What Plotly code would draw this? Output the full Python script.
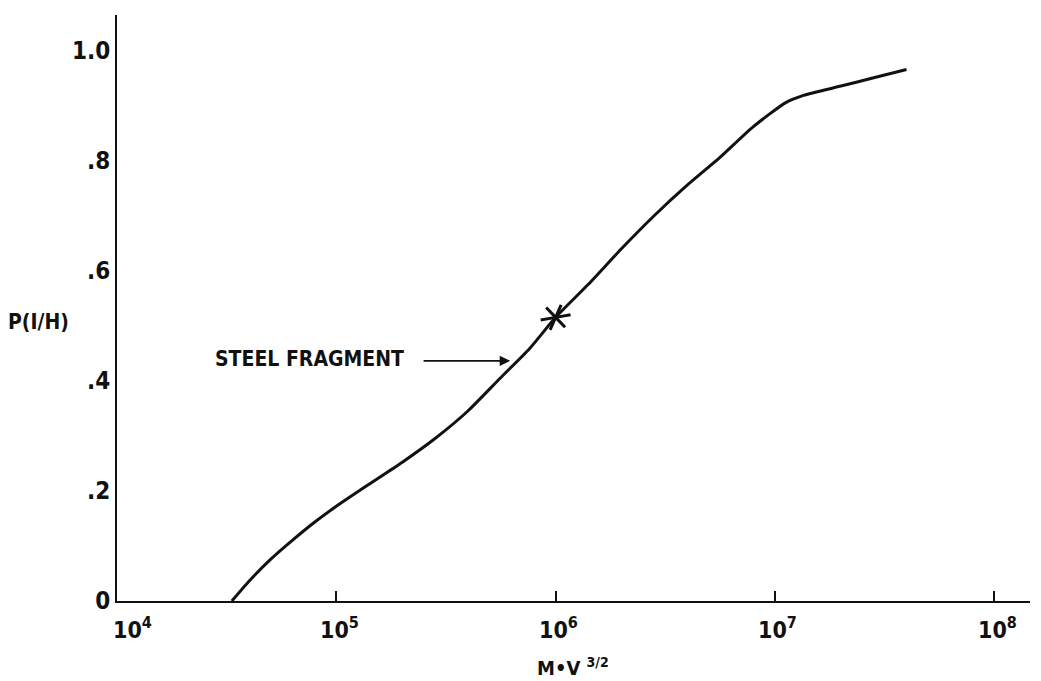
import numpy as np
import plotly.graph_objects as go

# Probability of incapacitation vs. M*V^(3/2) for a steel fragment
mv_values = [3.34e4, 3.98e4, 5.0e4, 6.3e4, 7.9e4, 1.0e5, 1.41e5, 2.0e5, 2.82e5,
             3.98e5, 5.6e5, 7.6e5, 1.0e6, 1.41e6, 2.0e6, 2.82e6, 3.98e6,
             5.6e6, 7.9e6, 1.12e7, 1.35e7, 2.0e7, 2.82e7, 3.98e7]
p_values = [0.0, 0.035, 0.075, 0.110, 0.142, 0.172, 0.212, 0.252, 0.295,
            0.345, 0.405, 0.458, 0.515, 0.575, 0.640, 0.700, 0.755,
            0.805, 0.860, 0.905, 0.918, 0.935, 0.950, 0.965]

# Marked point on the curve
star_mv = [1.0e6]
star_p = [0.515]

# Axis ticks
x_tick_vals = [1e4, 1e5, 1e6, 1e7, 1e8]
x_tick_text = ["10<sup>4</sup>", "10<sup>5</sup>", "10<sup>6</sup>", "10<sup>7</sup>", "10<sup>8</sup>"]
y_tick_vals = [0, 0.2, 0.4, 0.6, 0.8, 1.0]
y_tick_text = ["0", ".2", ".4", ".6", ".8", "1.0"]

FONT = "DejaVu Sans Condensed, Liberation Sans Narrow, sans-serif"
INK = "#111111"

fig = go.Figure()
fig.add_trace(go.Scatter(
    x=mv_values, y=p_values, mode="lines",
    line=dict(color=INK, width=3, shape="spline", smoothing=0.6),
    showlegend=False, hoverinfo="skip"))
for sym in ["y-up-open", "y-down-open"]:
    fig.add_trace(go.Scatter(
        x=star_mv, y=star_p, mode="markers",
        marker=dict(symbol=sym, size=19, angle=80, color=INK,
                    line=dict(color=INK, width=3)),
        showlegend=False, hoverinfo="skip"))

# x tick labels (10^4 sits just right of the y axis)
for v, t in zip(x_tick_vals, x_tick_text):
    fig.add_annotation(
        x=np.log10(v), y=0, xref="x", yref="paper",
        text=t, showarrow=False, yanchor="top", yshift=-10,
        xshift=15 if v == 1e4 else 3,
        font=dict(family=FONT, size=23, color=INK, weight="bold"))

# Axis titles
fig.add_annotation(
    x=np.log10(1.2e6), y=0, xref="x", yref="paper",
    text="M•V <sup>3/2</sup>", showarrow=False, yanchor="middle", yshift=-66,
    font=dict(family=FONT, size=20, color=INK, weight="bold"))
fig.add_annotation(
    x=-0.0865, y=0.506, xref="paper", yref="y",
    text="P(I/H)", showarrow=False, xanchor="center",
    font=dict(family=FONT, size=21, color=INK, weight="bold"))

# Curve label with arrow
fig.add_annotation(
    x=np.log10(2.74e4), y=0.44, xref="x", yref="y",
    text="STEEL FRAGMENT", showarrow=False, xanchor="left",
    font=dict(family=FONT, size=21, color=INK, weight="bold"))
fig.add_annotation(
    x=np.log10(6.2e5), y=0.436, xref="x", yref="y",
    text="", showarrow=True, ax=-88, ay=0,
    arrowhead=2, arrowsize=1.3, arrowwidth=1.6, arrowcolor=INK)

fig.update_xaxes(
    type="log", range=[4, 8.163],
    tickvals=x_tick_vals, showticklabels=False,
    ticks="inside", ticklen=10, tickwidth=1.5, tickcolor=INK,
    showline=True, linecolor=INK, linewidth=2,
    showgrid=False, zeroline=False)
fig.update_yaxes(
    range=[0, 1.064],
    tickvals=y_tick_vals, ticktext=y_tick_text, ticks="",
    tickfont=dict(family=FONT, size=24, color=INK, weight="bold"),
    showline=True, linecolor=INK, linewidth=2,
    showgrid=False, zeroline=False)

fig.update_layout(
    width=1041, height=681,
    margin=dict(l=117, r=11, t=15, b=80),
    plot_bgcolor="white", paper_bgcolor="white")

fig.write_html("out.html")
